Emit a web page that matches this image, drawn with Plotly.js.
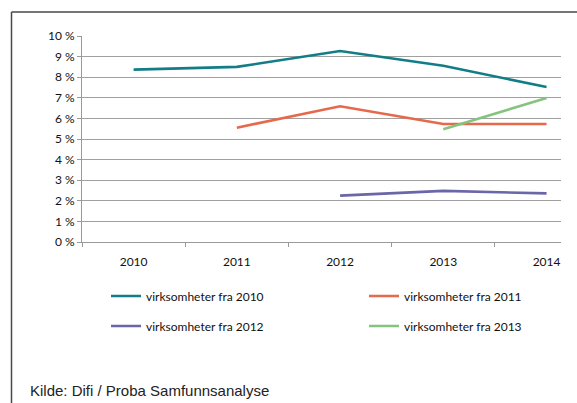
<!DOCTYPE html>
<html>
<head>
<meta charset="utf-8">
<script src="https://cdn.plot.ly/plotly-3.0.1.min.js"></script>
<style>
  html, body { margin: 0; padding: 0; background: #fff; }
  #chart { width: 577px; height: 403px; }
</style>
</head>
<body>
<div id="chart"></div>
<script>
// ---- Data (percent) ----
var years = ['2010', '2011', '2012', '2013', '2014'];
var seriesNames = ['virksomheter fra 2010', 'virksomheter fra 2011', 'virksomheter fra 2012', 'virksomheter fra 2013'];
var fra2010 = [8.37, 8.50, 9.27, 8.56, 7.52];
var fra2011 = [null, 5.55, 6.59, 5.73, 5.73];
var fra2012 = [null, null, 2.25, 2.48, 2.36];
var fra2013 = [null, null, null, 5.47, 6.99];
var seriesColors = ['#137d86', '#e5694a', '#6b66a8', '#84c47f'];
var sourceText = 'Kilde: Difi / Proba Samfunnsanalyse';

var W = 577, H = 403;
var M = {l: 82, r: 16, t: 36, b: 161};
var pw = W - M.l - M.r, ph = H - M.t - M.b;
function px(x) { return (x - M.l) / pw; }
function py(y) { return (H - M.b - y) / ph; }

var allSeries = [fra2010, fra2011, fra2012, fra2013];
var legendIds = ['legend', 'legend2', 'legend3', 'legend4'];
var traces = allSeries.map(function (vals, i) {
  return {
    type: 'scatter', mode: 'lines',
    x: years, y: vals, name: seriesNames[i],
    line: {color: seriesColors[i], width: 2.6},
    connectgaps: false, legend: legendIds[i],
    hoverinfo: 'skip'
  };
});

var legendFont = {family: 'Lato, Carlito, sans-serif', size: 12, color: '#111'};
function mkLegend(xp, yp) {
  return {x: px(xp), y: py(yp), xanchor: 'left', yanchor: 'middle',
          font: legendFont, bgcolor: 'rgba(0,0,0,0)', borderwidth: 0};
}

var layout = {
  width: W, height: H,
  margin: M,
  paper_bgcolor: '#fff', plot_bgcolor: '#fff',
  showlegend: true,
  legend: mkLegend(106, 296),
  legend2: mkLegend(364, 296),
  legend3: mkLegend(106, 326),
  legend4: mkLegend(364, 326),
  xaxis: {
    type: 'category', range: [-0.5, 4.14],
    tickson: 'boundaries', ticks: 'outside', ticklen: 4, tickcolor: '#999',
    showline: true, linecolor: '#999', linewidth: 1,
    showgrid: false, zeroline: false,
    tickfont: {family: 'Lato, Carlito, sans-serif', size: 12, color: '#111'},
    ticklabelstandoff: 9, fixedrange: true
  },
  yaxis: {
    range: [0, 10], dtick: 1, tick0: 0, ticksuffix: ' %',
    ticks: 'outside', ticklen: 4, tickcolor: '#999',
    showline: true, linecolor: '#999', linewidth: 1,
    showgrid: true, gridcolor: '#a0a0a0', gridwidth: 1, zeroline: false,
    tickfont: {family: 'Lato, Carlito, sans-serif', size: 12, color: '#111'},
    fixedrange: true
  },
  shapes: [
    {type: 'line', xref: 'paper', yref: 'paper', x0: px(11.5), x1: px(11.5), y0: py(12), y1: py(410),
     line: {color: '#484848', width: 1.5}},
    {type: 'line', xref: 'paper', yref: 'paper', x0: px(11.5), x1: px(590), y0: py(12), y1: py(12),
     line: {color: '#484848', width: 1.5}}
  ],
  annotations: [
    {text: sourceText, xref: 'paper', yref: 'paper', x: px(28), y: py(390),
     xanchor: 'left', yanchor: 'middle', showarrow: false,
     font: {family: 'Liberation Sans, Arial, sans-serif', size: 15, color: '#222'}}
  ]
};

Plotly.newPlot('chart', traces, layout, {displayModeBar: false, staticPlot: true});
</script>
</body>
</html>
